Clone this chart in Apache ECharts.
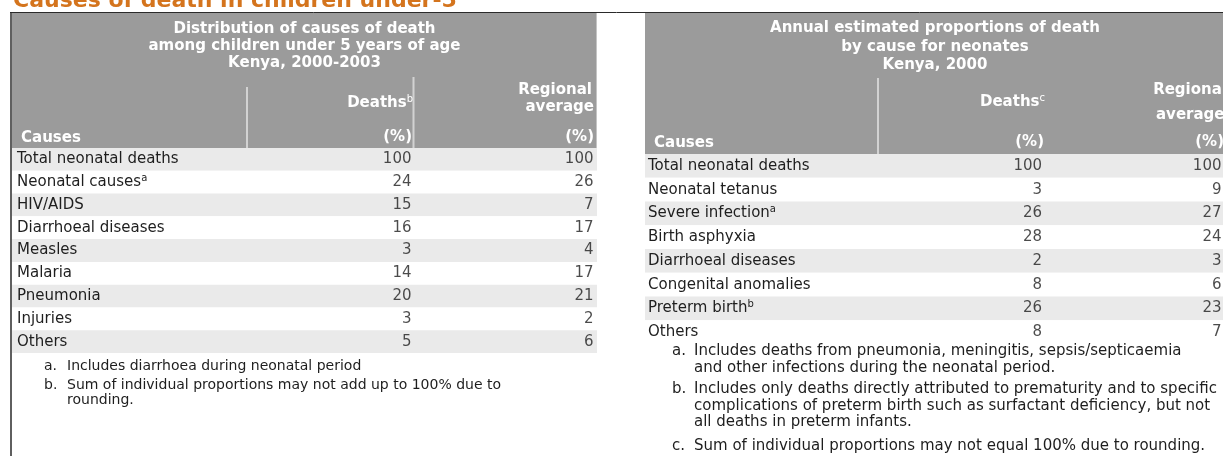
<!DOCTYPE html>
<html><head><meta charset="utf-8">
<script src="https://cdn.jsdelivr.net/npm/echarts@6/dist/echarts.min.js"></script>
<style>html,body{margin:0;padding:0;background:#fff;overflow:hidden}#c{width:1223px;height:456px}</style>
</head><body><div id="c"></div>
<script>
// ---------- DATA ----------
const pageTitle = 'Causes of death in children under-5';

const leftTitleLines = ['Distribution of causes of death', 'among children under 5 years of age', 'Kenya, 2000-2003'];
const leftCauses = ['Total neonatal deaths', 'Neonatal causes', 'HIV/AIDS', 'Diarrhoeal diseases', 'Measles', 'Malaria', 'Pneumonia', 'Injuries', 'Others'];
const leftCauseNotes = ['', 'a', '', '', '', '', '', '', ''];
const leftDeaths = [100, 24, 15, 16, 3, 14, 20, 3, 5];
const leftRegional = [100, 26, 7, 17, 4, 17, 21, 2, 6];
const leftFootnotes = [
  ['a.', 'Includes diarrhoea during neonatal period'],
  ['b.', 'Sum of individual proportions may not add up to 100% due to', 'rounding.']
];

const rightTitleLines = ['Annual estimated proportions of death', 'by cause for neonates', 'Kenya, 2000'];
const rightCauses = ['Total neonatal deaths', 'Neonatal tetanus', 'Severe infection', 'Birth asphyxia', 'Diarrhoeal diseases', 'Congenital anomalies', 'Preterm birth', 'Others'];
const rightCauseNotes = ['', '', 'a', '', '', '', 'b', ''];
const rightDeaths = [100, 3, 26, 28, 2, 8, 26, 8];
const rightRegional = [100, 9, 27, 24, 3, 6, 23, 7];
const rightFootnotes = [
  ['a.', 'Includes deaths from pneumonia, meningitis, sepsis/septicaemia', 'and other infections during the neonatal period.'],
  ['b.', 'Includes only deaths directly attributed to prematurity and to specific', 'complications of preterm birth such as surfactant deficiency, but not', 'all deaths in preterm infants.'],
  ['c.', 'Sum of individual proportions may not equal 100% due to rounding.']
];

const headCauses = 'Causes';
const headDeaths = 'Deaths';
const headRegional = ['Regional', 'average'];
const headPct = '(%)';

// ---------- LAYOUT / STYLE ----------
const FONT = 'DejaVu Sans';
const BODY_SIZE = 15;
const HEAD_SIZE = 15;
const HEAD_BG = '#9b9b9b';
const BAND = '#eaeaea';
const TXT = '#1e1e1e';
const DIV = '#d2d2d2';

const L = { x: 12, w: 585, headTop: 13, bodyTop: 148, bodyH: 205, labelMargin: 5,
  colDeaths: 400, colReg: 582, regOff: -2, titleY: [29, 46, 63], causesY: 138,
  deathsY: 103, regY: [90, 107], pctY: 137, deathsNote: 'b', regNote: '',
  dividers: [[235, 87], [401.5, 77]], notesX: 44, notesTextX: 67, notesY: [366, 385, 400], notesSize: 14 };
const R = { x: 645, w: 580, headTop: 13, bodyTop: 154, bodyH: 190, labelMargin: 3,
  colDeaths: 399, colReg: 579, regOff: 3, titleY: [28, 47, 65], causesY: 143,
  deathsY: 102, regY: [90, 115], pctY: 142, deathsNote: 'c', regNote: 'c',
  dividers: [[233, 78]], notesX: 672, notesTextX: 694, notesY: [351, 368, 389, 406, 422, 446], notesSize: 15 };

function supRich(color, size) {
  return { sup: { fontSize: size, fontFamily: FONT, color: color, fill: color, padding: [0, 0, 7, 0] } };
}
function withNote(name, note) { return note ? name + '{sup|' + note + '}' : name; }

const graphics = [];
function txt(text, x, y, opts) {
  graphics.push({
    type: 'text', x: x, y: y, silent: true, z: 10,
    style: Object.assign({ text: text, fill: TXT, fontFamily: FONT, fontSize: BODY_SIZE,
      align: 'left', verticalAlign: 'middle' }, opts || {})
  });
}

// page title (cut at top edge)
txt(pageTitle, 13, 1, { fill: '#d4741d', fontSize: 22, fontWeight: 'bold' });
// frame lines
graphics.push({ type: 'line', silent: true, z: 20, shape: { x1: 10, y1: 12.5, x2: 1223, y2: 12.5 }, style: { stroke: '#2a2a2a', lineWidth: 1 } });
graphics.push({ type: 'line', silent: true, z: 20, shape: { x1: 11, y1: 12, x2: 11, y2: 456 }, style: { stroke: '#2a2a2a', lineWidth: 1.5 } });

function header(T, titleLines) {
  const headH = T.bodyTop - T.headTop;
  graphics.push({ type: 'rect', silent: true, z: 1, shape: { x: T.x, y: T.headTop, width: T.w, height: headH }, style: { fill: HEAD_BG } });
  const hs = { fill: '#ffffff', fontWeight: 'bold', fontSize: HEAD_SIZE };
  titleLines.forEach((s, i) => txt(s, T.x + T.w / 2, T.titleY[i], Object.assign({ align: 'center' }, hs)));
  txt(headCauses, T.x + 9, T.causesY, hs);
  txt(withNote(headDeaths, T.deathsNote), T.x + T.colDeaths + 1, T.deathsY,
    Object.assign({ align: 'right', rich: supRich('#ffffff', 10) }, hs));
  txt(headPct, T.x + T.colDeaths, T.pctY, Object.assign({ align: 'right' }, hs));
  txt(headRegional[0], T.x + T.colReg + T.regOff, T.regY[0], Object.assign({ align: 'right' }, hs));
  txt(withNote(headRegional[1], T.regNote), T.x + T.colReg + (T.regNote ? 6 : 0), T.regY[1],
    Object.assign({ align: 'right', rich: supRich('#ffffff', 10) }, hs));
  txt(headPct, T.x + T.colReg, T.pctY, Object.assign({ align: 'right' }, hs));
  T.dividers.forEach(d => graphics.push({ type: 'line', silent: true, z: 5,
    shape: { x1: T.x + d[0], y1: d[1], x2: T.x + d[0], y2: T.bodyTop }, style: { stroke: DIV, lineWidth: 2 } }));
}
function footnotes(T, notes) {
  let k = 0;
  notes.forEach(n => {
    txt(n[0], T.notesX, T.notesY[k], { fontSize: T.notesSize });
    for (let j = 1; j < n.length; j++) { txt(n[j], T.notesTextX, T.notesY[k], { fontSize: T.notesSize }); k++; }
  });
}
header(L, leftTitleLines);
header(R, rightTitleLines);
graphics.push({ type: 'line', silent: true, z: 5, shape: { x1: L.x + L.w - 0.5, y1: L.headTop, x2: L.x + L.w - 0.5, y2: L.bodyTop }, style: { stroke: '#c4c4c4', lineWidth: 1 } });
footnotes(L, leftFootnotes);
footnotes(R, rightFootnotes);

// ---------- TABLE BODIES VIA GRIDS ----------
const grids = [], xAxes = [], yAxes = [], series = [];
function table(T, causes, notes, deaths, regional) {
  const gi = grids.length;
  grids.push({ left: T.x, top: T.bodyTop, width: T.w, height: T.bodyH, containLabel: false });
  xAxes.push({ gridIndex: gi, type: 'value', min: 0, max: T.w, show: false });
  yAxes.push({
    gridIndex: gi, type: 'category', inverse: true, data: causes,
    axisLine: { show: false }, axisTick: { show: false }, splitLine: { show: false },
    splitArea: { show: true, areaStyle: { color: [BAND, '#ffffff'] } },
    axisLabel: {
      inside: true, margin: T.labelMargin, color: TXT, fontFamily: FONT, fontSize: BODY_SIZE,
      formatter: (v, i) => withNote(v, notes[i]), rich: supRich(TXT, 10)
    }
  });
  const mk = (vals, col) => ({
    type: 'scatter', xAxisIndex: gi, yAxisIndex: gi, symbolSize: 1, silent: true,
    itemStyle: { color: 'rgba(0,0,0,0)' },
    data: vals.map((v, i) => [col, i, v]),
    label: { show: true, position: 'left', distance: 0, color: TXT, fontFamily: FONT, fontSize: BODY_SIZE,
      formatter: p => String(p.value[2]) }
  });
  series.push(mk(deaths, T.colDeaths), mk(regional, T.colReg));
}
table(L, leftCauses, leftCauseNotes, leftDeaths, leftRegional);
table(R, rightCauses, rightCauseNotes, rightDeaths, rightRegional);

const chart = echarts.init(document.getElementById('c'), null, { renderer: 'canvas' });
chart.setOption({
  animation: false, backgroundColor: '#ffffff',
  grid: grids, xAxis: xAxes, yAxis: yAxes, series: series,
  graphic: { elements: graphics }
});
</script></body></html>
